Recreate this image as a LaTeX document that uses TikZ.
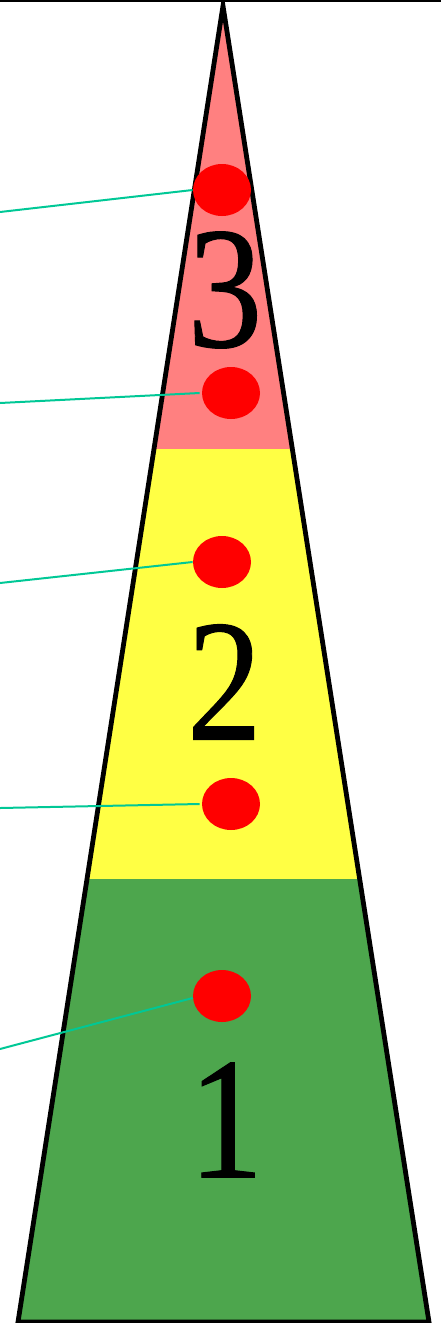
\documentclass[tikz,border=0pt]{standalone}
\usepackage{fontspec}
\setmainfont{Liberation Serif}
\newfontfamily\digitfont{Liberation Serif}[FakeBold=0.6]
\usetikzlibrary{shapes.geometric}
\definecolor{bandred}{HTML}{FF8080}
\definecolor{bandyellow}{HTML}{FFFF44}
\definecolor{bandgreen}{HTML}{4DA64D}
\definecolor{dotred}{HTML}{FF0000}
\definecolor{leader}{HTML}{00C896}
\newcommand{\narrowdigit}[1]{\scalebox{0.86}[1]{#1}}
\tikzset{
  dotmark/.style={ellipse, fill=dotred, draw=none, minimum width=29pt, minimum height=26pt, inner sep=0pt},
  leaderline/.style={draw=leader, line width=1pt},
  bignum/.style={inner sep=0pt, font=\digitfont\fontsize{87pt}{90pt}\selectfont},
  outline/.style={draw=black, line width=2.4pt, line join=miter}
}
\begin{document}
\begin{tikzpicture}[x=0.5pt,y=-0.5pt]
\useasboundingbox (0,0) rectangle (441,1323);
\coordinate (apex) at (223,6);
\coordinate (bl) at (18,1322);
\coordinate (br) at (429,1322);
\begin{scope}
  \clip (apex) -- (br) -- (bl) -- cycle;
  \fill[bandred] (0,0) rectangle (441,449);
  \fill[bandyellow] (0,449) rectangle (441,879);
  \fill[bandgreen] (0,879) rectangle (441,1323);
\end{scope}
\draw[outline] (apex) -- (br) -- (bl) -- cycle;
\draw[line width=1.5pt] (0,0.8) -- (441,0.8);
\node[bignum] (n3) at (225,290) {\narrowdigit{3}};
\node[bignum] (n2) at (224.5,682) {\narrowdigit{2}};
\node[bignum] (n1) at (226,1120) {\narrowdigit{1}};
\node[dotmark] (d1) at (222,190) {};
\node[dotmark] (d2) at (231,393) {};
\node[dotmark] (d3) at (222,562) {};
\node[dotmark] (d4) at (231,804) {};
\node[dotmark] (d5) at (222,996) {};
\coordinate (l1) at (0,212);
\coordinate (l2) at (0,403);
\coordinate (l3) at (0,583);
\coordinate (l4) at (0,808);
\coordinate (l5) at (0,1049);
\draw[leaderline] (l1) -- (d1.west);
\draw[leaderline] (l2) -- ([xshift=-1pt]d2.west);
\draw[leaderline] (l3) -- (d3.west);
\draw[leaderline] (l4) -- ([xshift=-1pt]d4.west);
\draw[leaderline] (l5) -- ([yshift=-1pt]d5.west);
\end{tikzpicture}
\end{document}
